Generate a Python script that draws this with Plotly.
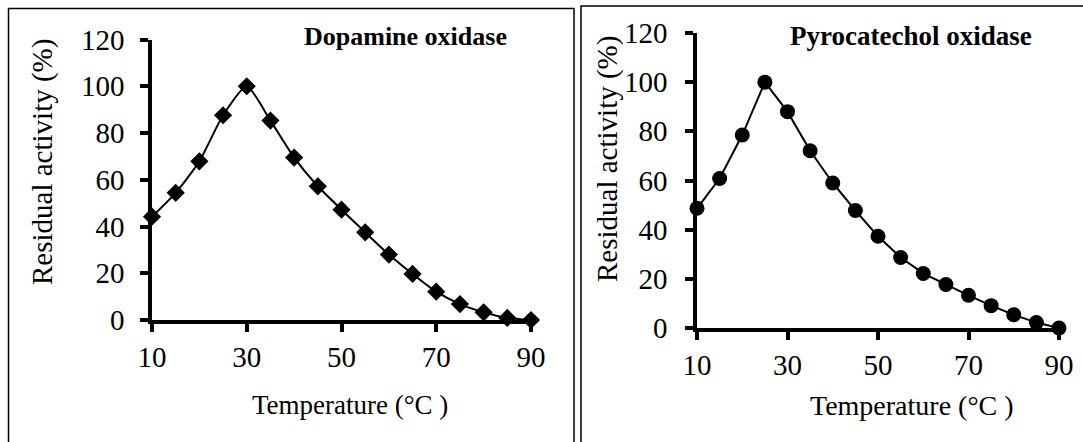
import plotly.graph_objects as go

W, H = 1083, 442

temperature = [10, 15, 20, 25, 30, 35, 40, 45, 50, 55, 60, 65, 70, 75, 80, 85, 90]
dopamine = [44.2, 54.4, 67.9, 87.6, 100, 85.3, 69.5, 57.2, 47.2, 37.5, 28.0, 19.7, 12.1, 6.8, 3.3, 0.9, 0]
pyrocatechol = [48.7, 60.8, 78.5, 100, 88.0, 72.1, 59.0, 47.8, 37.3, 28.7, 22.2, 17.7, 13.3, 9.1, 5.4, 2.2, 0]

x_ticks = [10, 30, 50, 70, 90]
y_ticks = [0, 20, 40, 60, 80, 100, 120]

FONT = "Liberation Serif"

def px(x):
    return x / W

def py(y):
    return 1 - y / H

fig = go.Figure()

fig.add_trace(go.Scatter(
    x=temperature, y=dopamine, mode="lines+markers",
    line=dict(color="black", width=2, shape="spline", smoothing=0.6),
    marker=dict(symbol="diamond", size=14, color="black"),
    cliponaxis=False, xaxis="x", yaxis="y", showlegend=False,
))
fig.add_trace(go.Scatter(
    x=temperature, y=pyrocatechol, mode="lines+markers",
    line=dict(color="black", width=2),
    marker=dict(symbol="circle", size=15, color="black"),
    cliponaxis=False, xaxis="x2", yaxis="y2", showlegend=False,
))

fig.update_layout(
    width=W, height=H,
    margin=dict(l=0, r=0, t=0, b=0, pad=0, autoexpand=False),
    paper_bgcolor="white", plot_bgcolor="white",
    font=dict(family=FONT, size=28, color="black"),
    xaxis=dict(domain=[px(152), px(531)], range=[10, 90], anchor="y"),
    yaxis=dict(domain=[py(320), py(39.5)], range=[0, 120], anchor="x"),
    xaxis2=dict(domain=[px(697), px(1059)], range=[10, 90], anchor="y2"),
    yaxis2=dict(domain=[py(328), py(33)], range=[0, 120], anchor="x2"),
)

fig.update_xaxes(tickmode="array", tickvals=x_ticks)
fig.update_yaxes(tickmode="array", tickvals=y_ticks)
common = dict(showline=True, linecolor="black", linewidth=3.5,
              ticks="outside", ticklen=8, tickwidth=3.5, tickcolor="black",
              showgrid=False, zeroline=False, automargin=False,
              tickfont=dict(family=FONT, size=29, color="black"))
fig.update_xaxes(**common)
fig.update_yaxes(**common)
fig.layout.xaxis.ticklabelstandoff = 0
fig.layout.xaxis2.ticklabelstandoff = 0
fig.layout.yaxis.ticklabelstandoff = 10
fig.layout.yaxis2.ticklabelstandoff = 12

def open_box(x0, x1, top, bottom):
    return dict(
        type="path", xref="paper", yref="paper",
        path=f"M {px(x0)},{py(bottom)} L {px(x0)},{py(top)} L {px(x1)},{py(top)} L {px(x1)},{py(bottom)}",
        line=dict(color="black", width=1.5),
    )

fig.update_layout(shapes=[
    open_box(8.5, 574, 8.5, 442),
    open_box(581, 1100, 6, 442),
])

def ann(text, x, y, size, bold=False, angle=0):
    return dict(
        text=f"<b>{text}</b>" if bold else text,
        xref="paper", yref="paper", x=px(x), y=py(y),
        xanchor="center", yanchor="middle", showarrow=False,
        textangle=angle, font=dict(family=FONT, size=size, color="black"),
    )

fig.update_layout(annotations=[
    ann("Dopamine oxidase", 406, 36, 26, bold=True),
    ann("Pyrocatechol oxidase", 911, 36, 27, bold=True),
    ann("Temperature (°C )", 350, 405, 27),
    ann("Temperature (°C )", 912, 405, 28),
    ann("Residual activity (%)", 42, 162, 29, angle=-90),
    ann("Residual activity (%)", 607, 159, 29, angle=-90),
])

fig.write_html("out.html")
